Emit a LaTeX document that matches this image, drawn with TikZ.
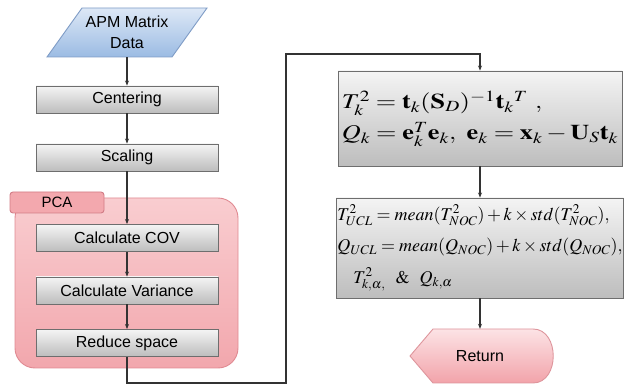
\documentclass[tikz,border=0pt]{standalone}
\usepackage{graphicx}
\usepackage{mathptmx}
\usepackage[no-math]{fontspec}
\setmainfont{Liberation Sans}
\usetikzlibrary{arrows.meta}
\newcommand\wideeq[1]{\scalebox{1.25}[1]{#1}}
\definecolor{boxtop}{HTML}{F4F4F4}
\definecolor{boxbot}{HTML}{BDBDBD}
\definecolor{boxline}{HTML}{6E6E6E}
\definecolor{pcafillA}{HTML}{F9CDD0}
\definecolor{pcafillB}{HTML}{F2A7AD}
\definecolor{pcaline}{HTML}{E08A92}
\definecolor{tabfill}{HTML}{F3A8AE}
\definecolor{tabline}{HTML}{D27C86}
\definecolor{datatop}{HTML}{DDE8F6}
\definecolor{databot}{HTML}{9BBBE3}
\definecolor{dataline}{HTML}{7F9CC6}
\definecolor{rettop}{HTML}{FCE3E5}
\definecolor{retbot}{HTML}{F2A3AA}
\definecolor{retline}{HTML}{DE959C}
\definecolor{conncol}{HTML}{333333}
\tikzset{
  procbox/.style={draw=boxline, line width=0.9pt, top color=boxtop, bottom color=boxbot,
    minimum width=182pt, minimum height=27pt, inner sep=0pt,
    font=\fontsize{16}{18}\selectfont},
  mathbox/.style={draw=boxline, line width=0.9pt, top color=boxtop, bottom color=boxbot,
    minimum width=284pt, inner sep=1pt, align=left},
  conn/.style={draw=conncol, line width=1.1pt, -{Stealth[length=5pt,width=4pt]}},
}
\begin{document}
\begin{tikzpicture}[x=1pt,y=-1pt]
\useasboundingbox (0,0) rectangle (625,385);
% input parallelogram
\draw[draw=dataline, line width=0.9pt, top color=datatop, bottom color=databot]
  (47,57) -- (82,8) -- (207,8) -- (172,57) -- cycle;
\node[minimum width=125pt, minimum height=49pt, inner sep=0pt, align=center,
  font=\fontsize{16}{21}\selectfont] (data) at (127,32.5) {APM Matrix\\Data};
% PCA container
\draw[draw=pcaline, line width=0.9pt, top color=pcafillA, bottom color=pcafillB, rounded corners=20pt]
  (15,198) rectangle (238,368);
\node[draw=tabline, line width=0.9pt, fill=tabfill, rounded corners=3pt,
  minimum width=94pt, minimum height=21pt, inner sep=0pt,
  font=\fontsize{15}{18}\selectfont] (tab) at (57,202.5) {PCA};
% process boxes
\node[procbox] (cen) at (127,99.5) {Centering};
\node[procbox] (scl) at (127,157.5) {Scaling};
\node[procbox] (cov) at (127,238) {Calculate COV};
\node[procbox] (var) at (127,290.5) {Calculate Variance};
\node[procbox] (red) at (127,343) {Reduce space};
% formula boxes
\node[mathbox, minimum height=95pt, font=\fontsize{21}{31}\selectfont] (box1) at (480,118.5)
  {\wideeq{$T_k^2 = \mathbf{t}_k(\mathbf{S}_D)^{-1}\mathbf{t}_k{}^T\ ,$}\\
   \wideeq{$Q_k = \mathbf{e}_k^T\mathbf{e}_k,\ \mathbf{e}_k = \mathbf{x}_k - \mathbf{U}_S\mathbf{t}_k$}};
\node[mathbox, minimum height=100pt, font=\fontsize{18}{31.5}\selectfont] (box2) at (480,248)
  {$T_{UCL}^2 = mean(T_{NOC}^2) + k\times std(T_{NOC}^2),$\\
   $Q_{UCL} = mean(Q_{NOC}) + k\times std(Q_{NOC}),$\\
   \hspace*{16pt}$T_{k,\alpha,}^2\ \ \&\ \ Q_{k,\alpha}$};
% return
\draw[draw=retline, line width=0.9pt, top color=rettop, bottom color=retbot]
  (410,356) -- (433,329) -- (533,329) .. controls (560,329) and (560,383) .. (533,383)
  -- (433,383) -- cycle;
\node[minimum width=140pt, minimum height=54pt, inner sep=0pt,
  font=\fontsize{16}{18}\selectfont] (ret) at (480,356) {Return};
% connectors
\coordinate (c1) at (286,383);
\coordinate (c2) at (286,54);
\draw[conn] (data.south) -- (cen.north);
\draw[conn] (cen.south) -- (scl.north);
\draw[conn] (scl.south) -- (cov.north);
\draw[conn] (cov.south) -- (var.north);
\draw[conn] (var.south) -- (red.north);
\draw[conn] (red.south) |- (c1) -- (c2) -| (box1.north);
\draw[conn] (box1.south) -- (box2.north);
\draw[conn] (box2.south) -- (ret.north);
\end{tikzpicture}
\end{document}
